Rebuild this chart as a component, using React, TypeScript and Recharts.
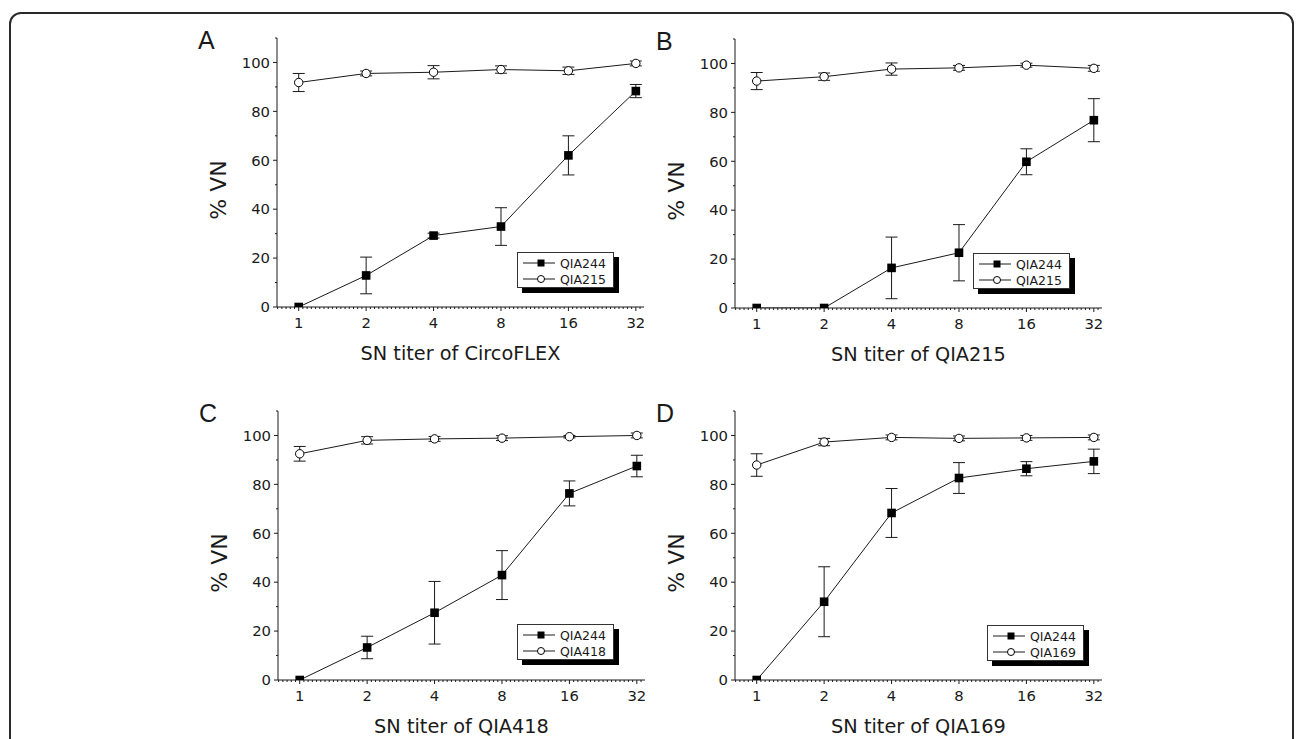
import React from 'react';
import { LineChart, Line, XAxis, YAxis, ErrorBar } from 'recharts';

// ---- data ----
const titers = [1, 2, 4, 8, 16, 32];
const xMajorTicks = [1, 2, 4, 8, 16, 32];
const yMajorTicks = [0, 20, 40, 60, 80, 100];
const yMinorTicks = [10, 30, 50, 70, 90, 110];

const panelA_QIA244 = [0, 12.9, 29.2, 32.9, 62.0, 88.3];
const panelA_QIA244_err = [0, 7.5, 1, 7.7, 8, 2.7];
const panelA_QIA215 = [91.8, 95.5, 96.0, 97.1, 96.6, 99.6];
const panelA_QIA215_err = [3.7, 1, 2.7, 1.5, 1.5, 1];

const panelB_QIA244 = [0, 0, 16.4, 22.6, 59.8, 76.8];
const panelB_QIA244_err = [0, 0, 12.6, 11.5, 5.3, 8.8];
const panelB_QIA215 = [92.8, 94.6, 97.7, 98.2, 99.3, 98.0];
const panelB_QIA215_err = [3.5, 1.5, 2.5, 1, 0.8, 1.2];

const panelC_QIA244 = [0, 13.3, 27.5, 42.9, 76.3, 87.5];
const panelC_QIA244_err = [0, 4.6, 12.8, 10, 5.1, 4.4];
const panelC_QIA418 = [92.5, 98.0, 98.6, 98.9, 99.5, 100];
const panelC_QIA418_err = [3, 1.5, 1, 1, 0.5, 1];

const panelD_QIA244 = [0, 32.0, 68.3, 82.6, 86.4, 89.4];
const panelD_QIA244_err = [0, 14.3, 10, 6.3, 2.9, 5];
const panelD_QIA169 = [87.9, 97.3, 99.2, 98.8, 99.0, 99.2];
const panelD_QIA169_err = [4.6, 1.5, 1, 1, 1, 1];

// minor tick marks on the log2 axis (16 per octave)
const xMinorTicks: number[] = [];
for (let k = -5; k <= 81; k++) {
  if (k % 16 !== 0) xMinorTicks.push(Math.pow(2, k / 16));
}

const X_DOMAIN: [number, number] = [0.8, 34.8];
const INK = '#1a1a1a';
const FONT = '"DejaVu Sans", sans-serif';

const PW = 367;
const PH = 269;
const ML = 60;
const MT = 10;
const MR = 14;
const MB = 40;

function buildRows(s: number[], se: number[], o: number[], oe: number[]) {
  return titers.map((t, i) => ({ x: t, s: s[i], se: se[i], o: o[i], oe: oe[i] }));
}

const XTick = (props: any) => {
  const { x, y, payload } = props;
  const v = payload.value;
  const major = xMajorTicks.includes(v);
  return (
    <g>
      <line x1={x} x2={x} y1={y} y2={y + (major ? 4 : 2)} stroke={INK} strokeWidth={1} />
      {major && (
        <text x={x} y={y + 21} textAnchor="middle" fontSize={14.8} fontFamily={FONT} fill={INK}>
          {v}
        </text>
      )}
    </g>
  );
};

const YTick = (props: any) => {
  const { x, y, payload } = props;
  const v = payload.value;
  const major = yMajorTicks.includes(v);
  return (
    <g>
      <line x1={x - (major ? 4 : 2)} x2={x} y1={y} y2={y} stroke={INK} strokeWidth={1} />
      {major && (
        <text x={x - 7} y={y + 5.3} textAnchor="end" fontSize={14.8} fontFamily={FONT} fill={INK}>
          {v}
        </text>
      )}
    </g>
  );
};

const SquareDot = (props: any) => {
  const { cx, cy, index } = props;
  return <rect key={`sq-${index}`} x={cx - 4.3} y={cy - 4.3} width={8.6} height={8.6} fill="#000" />;
};

const CircleDot = (props: any) => {
  const { cx, cy, index } = props;
  return <circle key={`ci-${index}`} cx={cx} cy={cy} r={4.2} fill="#fff" stroke="#000" strokeWidth={1} />;
};

const Legend = ({ left, top, names }: { left: number; top: number; names: string[] }) => (
  <div
    style={{
      position: 'absolute',
      left,
      top,
      width: 97,
      height: 36,
      boxSizing: 'border-box',
      border: '1px solid #333',
      background: '#fff',
      boxShadow: '5px 5px 0 #000',
    }}
  >
    <svg width={95} height={34} style={{ position: 'absolute', left: 0, top: 0 }}>
      <line x1={5} x2={37} y1={10} y2={10} stroke={INK} strokeWidth={1} />
      <rect x={19.5} y={6.5} width={7} height={7} fill="#000" />
      <line x1={5} x2={37} y1={26} y2={26} stroke={INK} strokeWidth={1} />
      <circle cx={23} cy={26} r={3.5} fill="#fff" stroke="#000" strokeWidth={1} />
      <text x={42} y={14.5} fontSize={12.5} fontFamily={FONT} fill={INK}>
        {names[0]}
      </text>
      <text x={42} y={30.5} fontSize={12.5} fontFamily={FONT} fill={INK}>
        {names[1]}
      </text>
    </svg>
  </div>
);

type PanelProps = {
  plotLeft: number;
  plotTop: number;
  letter: string;
  xLabel: string;
  names: string[];
  legendLeft: number;
  legendTop: number;
  rows: any[];
};

const Panel = ({ plotLeft, plotTop, letter, xLabel, names, legendLeft, legendTop, rows }: PanelProps) => {
  const cx = plotLeft + PW / 2;
  const cy = plotTop + PH / 2;
  return (
    <>
      <div
        style={{
          position: 'absolute',
          left: plotLeft - 79,
          top: plotTop - 12,
          fontSize: 25,
          fontFamily: '"Liberation Sans", Arial, sans-serif',
          lineHeight: '28px',
          color: INK,
        }}
      >
        {letter}
      </div>
      <div
        style={{
          position: 'absolute',
          left: plotLeft - 58 - 60,
          top: cy + 17 - 15,
          width: 120,
          height: 30,
          lineHeight: '30px',
          textAlign: 'center',
          fontSize: 22,
          fontFamily: FONT,
          color: INK,
          transform: 'rotate(-90deg)',
          whiteSpace: 'nowrap',
        }}
      >
        % VN
      </div>
      <div
        style={{
          position: 'absolute',
          left: cx - 150,
          top: plotTop + PH + 47 - 13,
          width: 300,
          height: 26,
          lineHeight: '26px',
          textAlign: 'center',
          fontSize: 19.3,
          fontFamily: FONT,
          color: INK,
          whiteSpace: 'nowrap',
        }}
      >
        {xLabel}
      </div>
      <div style={{ position: 'absolute', left: plotLeft - ML, top: plotTop - MT }}>
        <LineChart
          width={PW + ML + MR}
          height={PH + MT + MB}
          data={rows}
          margin={{ top: MT, right: MR, left: ML - 1, bottom: MB - 1 }}
        >
          <XAxis
            dataKey="x"
            type="number"
            scale="log"
            domain={X_DOMAIN}
            allowDataOverflow
            ticks={[...xMinorTicks, ...xMajorTicks].sort((a, b) => a - b)}
            interval={0}
            tick={(p: any) => <XTick {...p} />}
            tickLine={false}
            tickSize={0}
            tickMargin={0}
            height={1}
            axisLine={{ stroke: INK, strokeWidth: 1 }}
          />
          <YAxis
            type="number"
            domain={[0, 110]}
            allowDataOverflow
            ticks={[...yMajorTicks, ...yMinorTicks].sort((a, b) => a - b)}
            interval={0}
            tick={(p: any) => <YTick {...p} />}
            tickLine={false}
            tickSize={0}
            tickMargin={0}
            width={1}
            axisLine={{ stroke: INK, strokeWidth: 1 }}
          />
          <Line
            dataKey="o"
            stroke={INK}
            strokeWidth={1}
            dot={CircleDot}
            activeDot={false}
            isAnimationActive={false}
          >
            <ErrorBar dataKey="oe" width={6} stroke={INK} strokeWidth={1} direction="y" />
          </Line>
          <Line
            dataKey="s"
            stroke={INK}
            strokeWidth={1}
            dot={SquareDot}
            activeDot={false}
            isAnimationActive={false}
          >
            <ErrorBar dataKey="se" width={6} stroke={INK} strokeWidth={1} direction="y" />
          </Line>
        </LineChart>
      </div>
      <Legend left={legendLeft} top={legendTop} names={names} />
    </>
  );
};

export default function App() {
  return (
    <div
      style={{
        position: 'absolute',
        left: 0,
        top: 0,
        width: 1296,
        height: 739,
        overflow: 'hidden',
        background: '#fff',
      }}
    >
      <div
        style={{
          position: 'absolute',
          left: 9,
          top: 12,
          width: 1285,
          height: 820,
          boxSizing: 'border-box',
          border: '2px solid #2a2a2a',
          borderRadius: 12,
        }}
      />
      <Panel
        plotLeft={277}
        plotTop={38}
        letter="A"
        xLabel="SN titer of CircoFLEX"
        names={['QIA244', 'QIA215']}
        legendLeft={517}
        legendTop={252}
        rows={buildRows(panelA_QIA244, panelA_QIA244_err, panelA_QIA215, panelA_QIA215_err)}
      />
      <Panel
        plotLeft={735}
        plotTop={39}
        letter="B"
        xLabel="SN titer of QIA215"
        names={['QIA244', 'QIA215']}
        legendLeft={973}
        legendTop={253}
        rows={buildRows(panelB_QIA244, panelB_QIA244_err, panelB_QIA215, panelB_QIA215_err)}
      />
      <Panel
        plotLeft={278}
        plotTop={411}
        letter="C"
        xLabel="SN titer of QIA418"
        names={['QIA244', 'QIA418']}
        legendLeft={517}
        legendTop={624}
        rows={buildRows(panelC_QIA244, panelC_QIA244_err, panelC_QIA418, panelC_QIA418_err)}
      />
      <Panel
        plotLeft={735}
        plotTop={411}
        letter="D"
        xLabel="SN titer of QIA169"
        names={['QIA244', 'QIA169']}
        legendLeft={987}
        legendTop={625}
        rows={buildRows(panelD_QIA244, panelD_QIA244_err, panelD_QIA169, panelD_QIA169_err)}
      />
    </div>
  );
}
